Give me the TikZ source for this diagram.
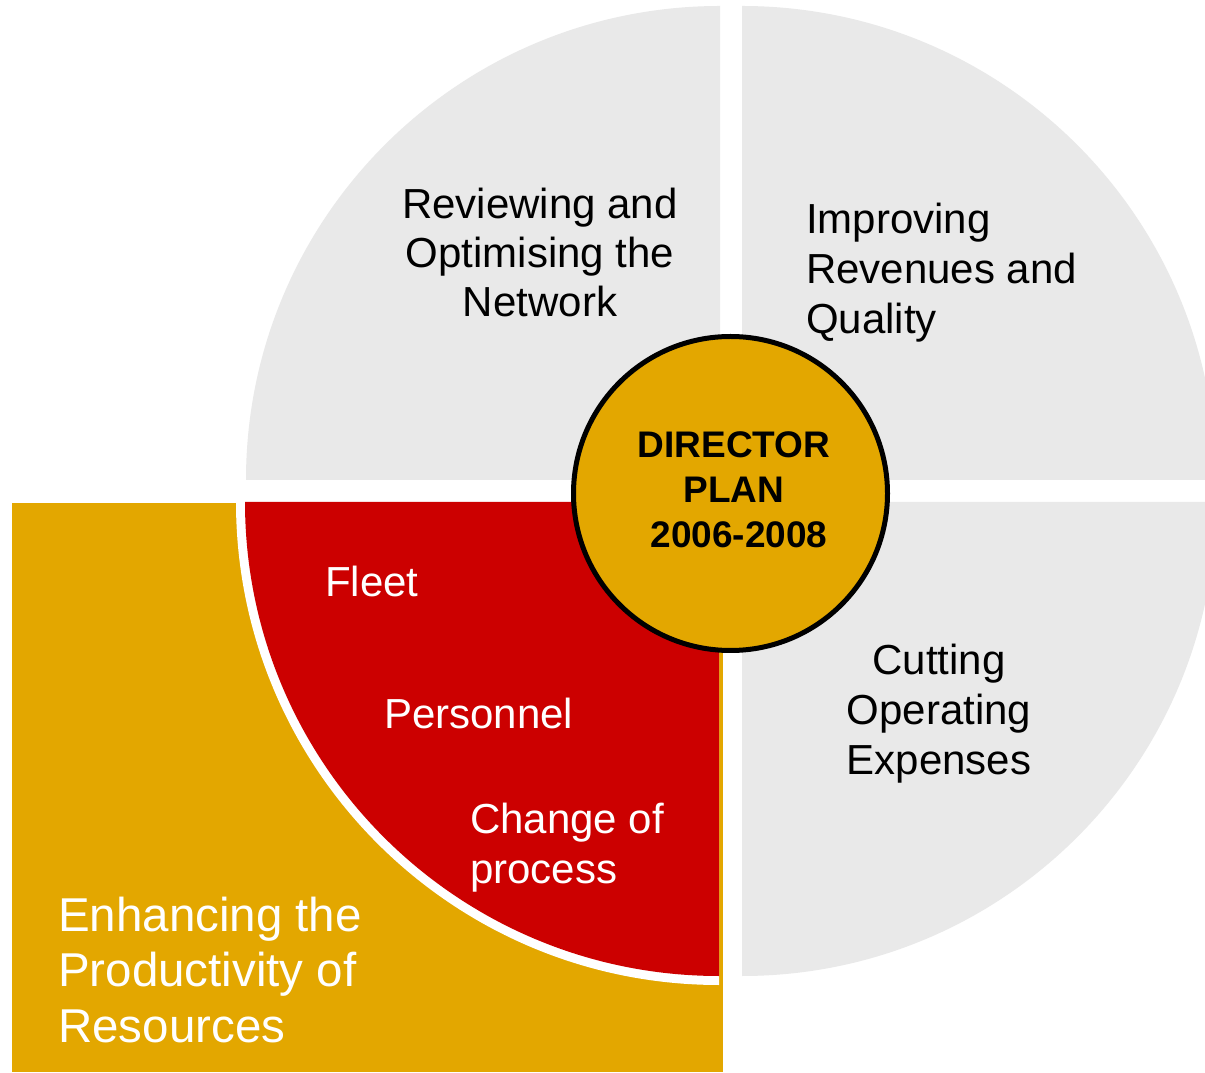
\documentclass[tikz,border=0pt]{standalone}
\usepackage{fontspec}
\setmainfont{Liberation Sans}
\definecolor{qgray}{RGB}{233,233,233}
\definecolor{qred}{RGB}{204,0,0}
\definecolor{qgold}{RGB}{227,167,0}
\tikzset{
  quad/.style={fill=qgray, draw=none},
  graytext/.style={inner sep=0pt, text=black, font=\fontsize{42}{50}\selectfont},
  redtext/.style={inner sep=0pt, text=white, font=\fontsize{42}{50}\selectfont},
  goldtext/.style={inner sep=0pt, text=white, font=\fontsize{47.5}{55.5}\selectfont},
  hub/.style={circle, fill=qgold, draw=black, line width=5pt, minimum size=314pt, inner sep=0pt}
}
\begin{document}
\begin{tikzpicture}[x=1pt,y=1pt]
\useasboundingbox (0,0) rectangle (1205,1072);
\clip (0,0) rectangle (1205,1072);
\fill[white] (0,0) rectangle (1205,1072);
% orange backdrop
\fill[qgold] (12,0) rectangle (723,569);
% gray quadrants
\fill[quad] (720,592) -- ++(-474,0) arc[start angle=180,end angle=90,radius=474] -- cycle;
\fill[quad] (742,592) -- ++(0,474) arc[start angle=90,end angle=0,radius=474] -- cycle;
\fill[quad] (742,570) -- ++(474,0) arc[start angle=0,end angle=-90,radius=474] -- cycle;
% red quadrant with white rim
\fill[white] (719,570) -- ++(-483,0) arc[start angle=180,end angle=270,radius=483] -- cycle;
\fill[qred] (719,570) -- ++(-474,0) arc[start angle=180,end angle=270,radius=474] -- cycle;
% texts (anchor base = baseline of last line)
\node[graytext, anchor=base, align=center, font=\fontsize{42}{49}\selectfont] (net) at (540,755) {Reviewing and\\Optimising the\\Network};
\node[graytext, anchor=base west, align=left] (rev) at (806,738) {Improving\\Revenues and\\Quality};
\node[graytext, anchor=base, align=center] (cut) at (939,298) {Cutting\\Operating\\Expenses};
\node[redtext, anchor=base west] (fleet) at (325,475) {Fleet};
\node[redtext, anchor=base west] (pers) at (384,343) {Personnel};
\node[redtext, anchor=base west, align=left] (proc) at (470,189) {Change of\\process};
\node[goldtext, anchor=base west, align=left] (prod) at (58,30) {Enhancing the\\Productivity of\\Resources};
% hub
\node[hub] (hubc) at (730.5,578.5) {};
\node[inner sep=0pt, anchor=base, align=center, font=\fontsize{37}{45}\selectfont\bfseries] (plan) at (734,524) {DIRECTOR\\PLAN\\\hspace*{10pt}2006-2008};
\end{tikzpicture}
\end{document}
